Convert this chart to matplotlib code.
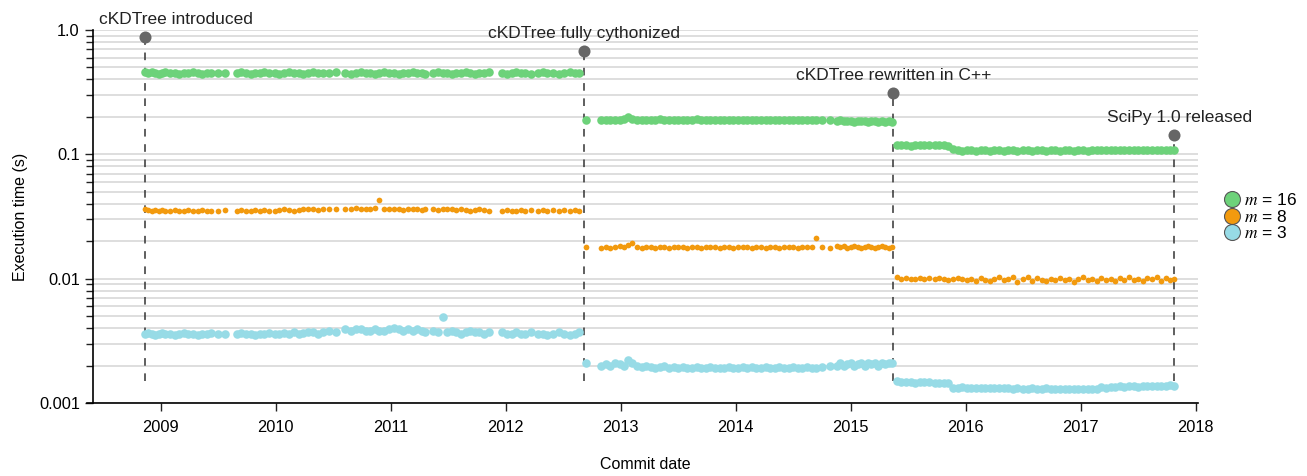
import numpy as np
import matplotlib
matplotlib.use("Agg")
import matplotlib.pyplot as plt
from matplotlib.lines import Line2D

plt.rcParams['font.family'] = ['Liberation Sans', 'DejaVu Sans']
plt.rcParams['mathtext.fontset'] = 'stix'

########### data (commit dates as decimal years, execution times in s)

# period 1 : cKDTree introduced -> fully cythonized
dates_1 = [2008.86, 2008.89, 2008.92, 2008.95, 2008.98, 2009.01, 2009.04, 2009.08, 2009.12, 2009.16, 2009.20, 2009.24, 2009.28, 2009.32, 2009.36, 2009.40, 2009.44,
           2009.50, 2009.56,
           2009.66, 2009.70, 2009.74, 2009.78, 2009.82, 2009.86, 2009.90, 2009.94, 2009.99, 2010.03, 2010.07, 2010.11, 2010.16, 2010.20, 2010.24, 2010.28, 2010.32, 2010.37, 2010.41, 2010.46, 2010.52,
           2010.60, 2010.65, 2010.70, 2010.74, 2010.78, 2010.82, 2010.86, 2010.90, 2010.94, 2010.98,
           2011.03, 2011.07, 2011.11, 2011.15, 2011.19, 2011.23, 2011.27, 2011.30,
           2011.37, 2011.41, 2011.45, 2011.49, 2011.53, 2011.57, 2011.61, 2011.65, 2011.69, 2011.73, 2011.77, 2011.81, 2011.85,
           2011.97, 2012.01, 2012.05, 2012.09, 2012.13, 2012.17, 2012.22,
           2012.28, 2012.32, 2012.36, 2012.41, 2012.46, 2012.51, 2012.56, 2012.60, 2012.64]
m16_1 = [0.46, 0.45, 0.46, 0.45, 0.44, 0.45, 0.46, 0.45, 0.45, 0.44, 0.45, 0.45, 0.46, 0.45, 0.44, 0.45, 0.45,
         0.45, 0.45,
         0.45, 0.46, 0.45, 0.44, 0.45, 0.45, 0.46, 0.45, 0.45, 0.44, 0.45, 0.46, 0.45, 0.45, 0.44, 0.45, 0.46, 0.45, 0.45, 0.45, 0.46,
         0.45, 0.44, 0.45, 0.46, 0.45, 0.45, 0.44, 0.45, 0.46, 0.45,
         0.45, 0.44, 0.45, 0.45, 0.46, 0.45, 0.45, 0.44,
         0.45, 0.46, 0.45, 0.45, 0.44, 0.45, 0.45, 0.46, 0.45, 0.44, 0.45, 0.45, 0.46,
         0.45, 0.44, 0.45, 0.46, 0.45, 0.45, 0.44,
         0.45, 0.46, 0.45, 0.45, 0.44, 0.45, 0.46, 0.45, 0.45]
m8_1 = [0.036, 0.0355, 0.035, 0.0355, 0.035, 0.0355, 0.035, 0.035, 0.0355, 0.035, 0.035, 0.0355, 0.035, 0.035, 0.0355, 0.035, 0.035,
        0.035, 0.0355,
        0.035, 0.0355, 0.035, 0.035, 0.0355, 0.035, 0.0355, 0.035, 0.035, 0.0355, 0.036, 0.0355, 0.035, 0.0355, 0.036, 0.0365, 0.036, 0.0355, 0.036, 0.0365, 0.036,
        0.036, 0.0365, 0.037, 0.0365, 0.036, 0.0365, 0.037, 0.043, 0.0365, 0.036,
        0.0365, 0.036, 0.0355, 0.036, 0.0365, 0.036, 0.0355, 0.036,
        0.036, 0.0355, 0.036, 0.0365, 0.036, 0.0355, 0.036, 0.0355, 0.035, 0.0355, 0.036, 0.0355, 0.035,
        0.035, 0.0355, 0.035, 0.035, 0.0355, 0.035, 0.0355,
        0.035, 0.0355, 0.035, 0.0355, 0.035, 0.0355, 0.035, 0.0355, 0.035]
m3_1 = [0.0036, 0.00365, 0.0036, 0.0035, 0.0036, 0.00365, 0.0036, 0.0036, 0.00355, 0.0036, 0.00365, 0.0036, 0.0036, 0.00355, 0.0036, 0.0036, 0.00365,
        0.0036, 0.0036,
        0.0036, 0.00365, 0.0036, 0.0036, 0.00355, 0.0036, 0.0036, 0.00365, 0.0036, 0.0036, 0.00365, 0.0036, 0.0037, 0.0036, 0.00365, 0.0037, 0.0037, 0.0036, 0.0037, 0.0038, 0.0037,
        0.0039, 0.0038, 0.0039, 0.0039, 0.0038, 0.0038, 0.0039, 0.0038, 0.0038, 0.0039,
        0.0040, 0.0039, 0.0038, 0.0039, 0.0038, 0.0039, 0.0038, 0.0037,
        0.0038, 0.0037, 0.0049, 0.0037, 0.0038, 0.0037, 0.0036, 0.0037, 0.0038, 0.0037, 0.0037, 0.0036, 0.0037,
        0.0037, 0.0036, 0.0036, 0.0037, 0.0036, 0.0036, 0.0037,
        0.0036, 0.0036, 0.00355, 0.0036, 0.0037, 0.0036, 0.0035, 0.0036, 0.0037]

# period 2 : fully cythonized -> rewritten in C++
dates_2 = [2012.70, 2012.83, 2012.87, 2012.91, 2012.95, 2012.99, 2013.03, 2013.06,
           2013.10, 2013.14, 2013.18, 2013.22, 2013.26, 2013.30, 2013.34, 2013.38, 2013.42, 2013.46,
           2013.50, 2013.54, 2013.58, 2013.62, 2013.66, 2013.70, 2013.74, 2013.78, 2013.82, 2013.86,
           2013.90, 2013.94, 2013.98, 2014.02, 2014.06, 2014.10, 2014.14, 2014.18, 2014.22, 2014.26,
           2014.30, 2014.34, 2014.38, 2014.42, 2014.46, 2014.50, 2014.54, 2014.58, 2014.62, 2014.66,
           2014.70, 2014.75, 2014.82,
           2014.88, 2014.91, 2014.94, 2014.97, 2015.00, 2015.03, 2015.06, 2015.09, 2015.12, 2015.15,
           2015.18, 2015.21, 2015.24, 2015.27, 2015.30, 2015.33, 2015.36]
m16_2 = [0.188, 0.19, 0.19, 0.188, 0.19, 0.19, 0.192, 0.20,
         0.192, 0.19, 0.19, 0.188, 0.19, 0.19, 0.192, 0.19, 0.188, 0.19,
         0.19, 0.19, 0.188, 0.19, 0.192, 0.19, 0.19, 0.188, 0.19, 0.19,
         0.19, 0.19, 0.188, 0.19, 0.19, 0.19, 0.19, 0.188, 0.19, 0.19,
         0.19, 0.19, 0.19, 0.188, 0.19, 0.19, 0.19, 0.188, 0.19, 0.19,
         0.19, 0.188, 0.19,
         0.185, 0.19, 0.186, 0.184, 0.186, 0.183, 0.185, 0.184, 0.186, 0.183,
         0.184, 0.185, 0.183, 0.184, 0.182, 0.184, 0.183]
m8_2 = [0.018, 0.0178, 0.018, 0.0178, 0.018, 0.0182, 0.018, 0.0185,
        0.0195, 0.018, 0.0178, 0.018, 0.018, 0.0178, 0.018, 0.018, 0.0178, 0.018,
        0.018, 0.018, 0.0178, 0.018, 0.018, 0.0178, 0.018, 0.018, 0.018, 0.0178,
        0.018, 0.018, 0.0178, 0.018, 0.018, 0.018, 0.0178, 0.018, 0.018, 0.0178,
        0.018, 0.018, 0.0178, 0.018, 0.018, 0.018, 0.0178, 0.018, 0.018, 0.018,
        0.0212, 0.018, 0.0178,
        0.0182, 0.018, 0.0182, 0.0178, 0.018, 0.0182, 0.018, 0.0178, 0.018, 0.0182,
        0.018, 0.0178, 0.018, 0.0182, 0.018, 0.0178, 0.018]
m3_2 = [0.0021, 0.0020, 0.00205, 0.0020, 0.0021, 0.00205, 0.0020, 0.0022,
        0.0021, 0.0020, 0.00195, 0.0020, 0.00195, 0.0019, 0.00195, 0.0020, 0.0019, 0.00195,
        0.0019, 0.00195, 0.0019, 0.0019, 0.00195, 0.0019, 0.0019, 0.00195, 0.0019, 0.0019,
        0.0019, 0.00195, 0.0019, 0.0019, 0.00195, 0.0019, 0.00195, 0.0019, 0.0019, 0.00195,
        0.0019, 0.0019, 0.00195, 0.0019, 0.0019, 0.00195, 0.0019, 0.0019, 0.00195, 0.0019,
        0.0019, 0.00195, 0.0020,
        0.0020, 0.0021, 0.0020, 0.00205, 0.0021, 0.0020, 0.00205, 0.0021, 0.0020, 0.0021,
        0.00205, 0.0021, 0.0020, 0.0021, 0.00205, 0.0021, 0.0021]

# period 3 : rewritten in C++ -> SciPy 1.0
dates_3 = [2015.40, 2015.44, 2015.48, 2015.52, 2015.56, 2015.60, 2015.64, 2015.68,
           2015.73, 2015.77, 2015.81, 2015.85, 2015.89, 2015.93, 2015.97, 2016.01, 2016.05, 2016.09,
           2016.13, 2016.17, 2016.21, 2016.25, 2016.29, 2016.33, 2016.37, 2016.41, 2016.45, 2016.50,
           2016.54, 2016.58, 2016.62, 2016.66, 2016.70, 2016.74, 2016.78, 2016.82, 2016.86, 2016.90,
           2016.94, 2016.98, 2017.02, 2017.06, 2017.10, 2017.14, 2017.18, 2017.22, 2017.26, 2017.30,
           2017.34, 2017.38, 2017.42, 2017.46, 2017.50, 2017.54, 2017.58, 2017.62, 2017.66, 2017.70,
           2017.74, 2017.78, 2017.81]
m16_3 = [0.118, 0.119, 0.118, 0.117, 0.118, 0.118, 0.119, 0.118,
         0.118, 0.119, 0.118, 0.117, 0.11, 0.108, 0.107, 0.108, 0.108, 0.107,
         0.108, 0.108, 0.107, 0.108, 0.108, 0.107, 0.108, 0.108, 0.107, 0.108,
         0.108, 0.107, 0.108, 0.108, 0.107, 0.108, 0.108, 0.107, 0.108, 0.108,
         0.107, 0.108, 0.108, 0.107, 0.108, 0.108, 0.109, 0.108, 0.108, 0.109,
         0.108, 0.109, 0.108, 0.108, 0.109, 0.108, 0.109, 0.108, 0.109, 0.108,
         0.109, 0.108, 0.109]
m8_3 = [0.0103, 0.0100, 0.0101, 0.0100, 0.0100, 0.0101, 0.0100, 0.0102,
        0.0099, 0.0101, 0.0100, 0.0098, 0.0100, 0.0102, 0.0099, 0.0097, 0.0100, 0.0096,
        0.0101, 0.0098, 0.0095, 0.0100, 0.0103, 0.0097, 0.0099, 0.0104, 0.0094, 0.0099,
        0.0103, 0.0096, 0.0101, 0.0098, 0.0095, 0.0100, 0.0097, 0.0101, 0.0098, 0.0100,
        0.0094, 0.0099, 0.0103, 0.0097, 0.0100, 0.0095, 0.0101, 0.0098, 0.0100, 0.0096,
        0.0102, 0.0098, 0.0104, 0.0097, 0.0100, 0.0095, 0.0101, 0.0099, 0.0103, 0.0096,
        0.0101, 0.0098, 0.0100]
m3_3 = [0.00149, 0.00148, 0.00147, 0.00148, 0.00146, 0.00147, 0.00148, 0.00147,
        0.00145, 0.00146, 0.00145, 0.00144, 0.00132, 0.00131, 0.00134, 0.00132, 0.00131, 0.00133,
        0.00132, 0.00131, 0.00132, 0.00131, 0.00131, 0.00132, 0.00131, 0.0013, 0.00131, 0.0013,
        0.0013, 0.00131, 0.0013, 0.0013, 0.00131, 0.0013, 0.0013, 0.0013, 0.00129, 0.0013,
        0.0013, 0.00129, 0.0013, 0.0013, 0.00129, 0.0013, 0.00134, 0.00133, 0.00135, 0.00134,
        0.00136, 0.00135, 0.00137, 0.00136, 0.00135, 0.00138, 0.00136, 0.00137, 0.00138, 0.00136,
        0.00137, 0.00139, 0.00138]

dates = np.array(dates_1 + dates_2 + dates_3)
m16 = np.array(m16_1 + m16_2 + m16_3)
m8 = np.array(m8_1 + m8_2 + m8_3)
m3 = np.array(m3_1 + m3_2 + m3_3)

# milestones
events = ["cKDTree introduced", "cKDTree fully cythonized", "cKDTree rewritten in C++", "SciPy 1.0 released"]
event_dates = [2008.86, 2012.68, 2015.37, 2017.81]
event_values = [0.88, 0.68, 0.31, 0.143]
event_bottom = 0.0015

series_labels = [r"$m$ = 16", r"$m$ = 8", r"$m$ = 3"]
colors = ["#6dd27a", "#f29a0e", "#97dbe6"]

########### Plot

fig = plt.figure(figsize=(13.07, 4.76), dpi=100)
ax = fig.add_axes([0.0712, 0.1534, 0.8454, 0.7836])

ax.scatter(dates, m16, s=38, color=colors[0], linewidths=0, zorder=3)
ax.scatter(dates, m8, s=17, color=colors[1], linewidths=0, zorder=3)
ax.scatter(dates, m3, s=38, color=colors[2], linewidths=0, zorder=3)

text_shift = [31, 0, 0, 6]
for name, d, v, sh in zip(events, event_dates, event_values, text_shift):
    ax.plot([d, d], [event_bottom, v], color="#333333", lw=1.1, ls=(0, (5, 5)), zorder=2)
    ax.scatter([d], [v], s=75, color="#666666", linewidths=0, zorder=4)
    ax.annotate(name, (d, v), xytext=(sh, 10), textcoords="offset pixels",
                ha="center", va="bottom", fontsize=12.5, color="#222222")

ax.set_yscale("log")
ax.set_ylim(0.001, 1.0)
ax.set_xlim(2008.41, 2018.02)
ax.set_yticks([0.001, 0.01, 0.1, 1.0])
ax.set_yticklabels(["0.001", "0.01", "0.1", "1.0"])
ax.set_yticks([k * 10.0**e for e in (-3, -2, -1) for k in range(2, 10)], minor=True)
ax.yaxis.set_minor_formatter(plt.NullFormatter())
ax.set_xticks(range(2009, 2019))

ax.yaxis.grid(True, which="both", color="#d8d8d8", lw=1.2, zorder=0)
ax.set_axisbelow(True)
for s in ["top", "right"]:
    ax.spines[s].set_visible(False)
ax.spines["left"].set_linewidth(1.2)
ax.spines["bottom"].set_linewidth(1.2)
ax.spines["bottom"].set_bounds(2008.36, 2018.02)
ax.tick_params(axis="both", which="both", length=6, width=1, labelsize=11.8, color="#222222")
ax.tick_params(axis="y", which="minor", length=5)
ax.tick_params(axis="x", pad=6)

ax.set_ylabel("Execution time (s)", fontsize=11.5, labelpad=8)
ax.set_xlabel("Commit date", fontsize=11.5, labelpad=16)

handles = [Line2D([], [], ls="", marker="o", markersize=11.5, markerfacecolor=c,
                  markeredgecolor="#555555", markeredgewidth=0.8) for c in colors]
fig.legend(handles, series_labels, loc="center left", bbox_to_anchor=(0.928, 0.545),
           frameon=False, fontsize=12.5, handletextpad=0.1, labelspacing=0.05,
           borderpad=0, handlelength=1.2)

fig.savefig("out.png", dpi=100)
print("plotted.")
